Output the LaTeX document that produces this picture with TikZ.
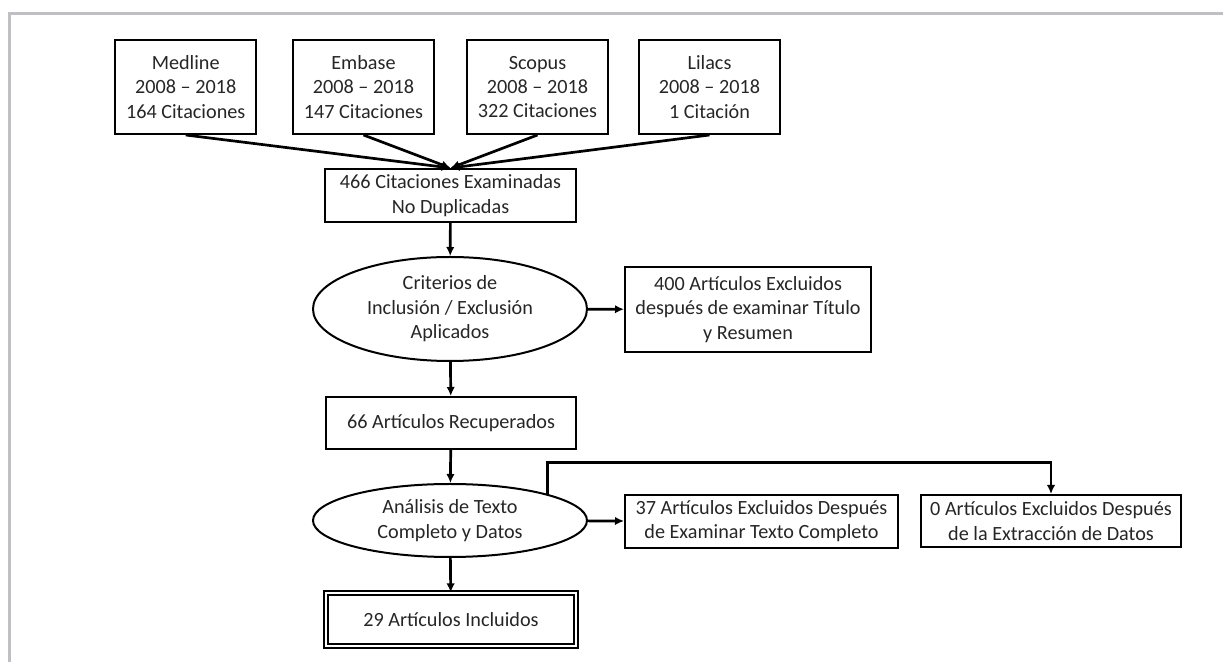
\documentclass[tikz,border=0pt]{standalone}
\usepackage{fontspec}
\setmainfont{Carlito}
\usepackage{xcolor}
\usepackage{tikz}
\usetikzlibrary{arrows.meta,positioning,shapes.geometric}
\definecolor{framegray}{RGB}{192,192,196}
\definecolor{inkgray}{RGB}{38,38,38}

\begin{document}
\begin{tikzpicture}[
  x=0.5pt,y=-0.5pt,
  box/.style={draw=black, line width=1pt, align=center, inner sep=1pt, text=inkgray, font=\fontsize{10.1pt}{12.2pt}\selectfont},
  source/.style={box, minimum width=70.3pt, minimum height=47pt},
  decision/.style={box, ellipse, inner sep=0pt, minimum width=137pt},
  final/.style={box, double, line width=0.85pt, double distance=1.1pt},
  arrow/.style={-{Latex[length=4.5pt,width=4.2pt]}, line width=1.35pt, draw=black}
]
\useasboundingbox (0,0) rectangle (1223,662);
\draw[framegray, line width=1.5pt] (9.5,662) -- (9.5,14) -- (1223,14);

\node[source] (medline) at (185.7,87) {Medline\\2008 – 2018\\164 Citaciones};
\node[source] (embase) at (363.5,87) {Embase\\2008 – 2018\\147 Citaciones};
\node[source] (scopus) at (537.5,87) {Scopus\\2008 – 2018\\322 Citaciones};
\node[source] (lilacs) at (709.5,87) {Lilacs\\2008 – 2018\\1 Citación};
\node[box, minimum width=125.5pt, minimum height=26.5pt] (unique) at (450.5,195.5) {466 Citaciones Examinadas\\No Duplicadas};
\node[decision, minimum height=52pt] (criteria) at (450,309) {Criterios de\\Inclusión / Exclusión\\Aplicados};
\node[box, minimum width=123pt, minimum height=42.5pt] (excl400) at (748,309.4) {400 Artículos Excluidos\\después de examinar Título\\y Resumen};
\node[box, minimum width=125pt, minimum height=26pt] (recovered) at (451,423) {66 Artículos Recuperados};
\node[decision, minimum height=36.5pt] (analysis) at (450,520.5) {Análisis de Texto\\Completo y Datos};
\node[box, minimum width=136.5pt, minimum height=26.5pt] (excl37) at (761.5,521.4) {37 Artículos Excluidos Después\\de Examinar Texto Completo};
\node[box, minimum width=130pt, minimum height=26pt] (excl0) at (1051,521) {0 Artículos Excluidos Después\\de la Extracción de Datos};
\node[final, minimum width=125pt, minimum height=26.5pt] (included) at (451,619.8) {29 Artículos Incluidos};
\coordinate (branch) at (1051,462.7);

\draw[arrow] (medline.south) -- (unique.north);
\draw[arrow] (embase.south) -- (unique.north);
\draw[arrow] (scopus.south) -- (unique.north);
\draw[arrow] (lilacs.south) -- (unique.north);
\draw[arrow] (unique) -- (criteria);
\draw[arrow] (criteria) -- (excl400);
\draw[arrow] (criteria) -- (recovered);
\draw[arrow] (recovered) -- (analysis);
\draw[arrow] (analysis) -- (excl37);
\draw[arrow] (analysis.north east) |- (branch) -- (excl0.north);
\draw[arrow] (analysis) -- (included);
\end{tikzpicture}
\end{document}
